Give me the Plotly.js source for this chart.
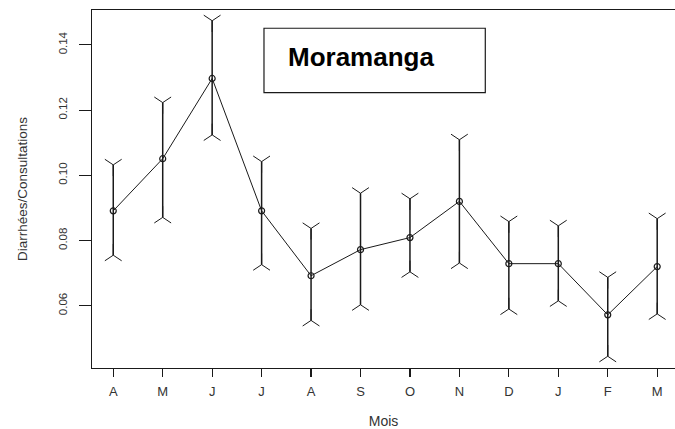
<!DOCTYPE html>
<html>
<head>
<meta charset="utf-8">
<script src="https://cdn.plot.ly/plotly-3.0.1.min.js"></script>
<style>
html,body{margin:0;padding:0;background:#fff;overflow:hidden;}
#chart{width:675px;height:429px;}
</style>
</head>
<body>
<div id="chart"></div>
<script>
// Data
const months = ["A","M","J","J","A","S","O","N","D","J","F","M"];
const rates  = [0.0891,0.1051,0.1297,0.0891,0.0692,0.0772,0.0809,0.0920,0.0729,0.0729,0.0572,0.0720];
const upper  = [0.1032,0.1223,0.1474,0.1042,0.0837,0.0945,0.0928,0.1109,0.0858,0.0845,0.0687,0.0867];
const lower  = [0.0755,0.0871,0.1124,0.0726,0.0555,0.0603,0.0704,0.0731,0.0590,0.0615,0.0445,0.0575];
const yTicks = [0.06,0.08,0.10,0.12,0.14];
const siteName = "Moramanga";

const pos = months.map((m,i)=>i+1);
const ink = "#1a1a1a";
const FONT = "Liberation Sans, Arial, sans-serif";

const main = {
  x: pos, y: rates, type: "scatter", mode: "lines+markers",
  line: {color: ink, width: 1},
  marker: {symbol: "circle-open", size: 6, color: ink, line: {color: ink, width: 1.2}},
  error_y: {
    type: "data", symmetric: false,
    array: upper.map((u,i)=>u-rates[i]),
    arrayminus: lower.map((l,i)=>rates[i]-l),
    width: 0, thickness: 1.5, color: ink
  },
  hoverinfo: "skip", showlegend: false
};
const capsTop = {
  x: pos, y: upper, type: "scatter", mode: "markers",
  marker: {symbol: "y-down", size: 14, color: ink, line: {color: ink, width: 1}},
  hoverinfo: "skip", showlegend: false
};
const capsBot = {
  x: pos, y: lower, type: "scatter", mode: "markers",
  marker: {symbol: "y-up", size: 14, color: ink, line: {color: ink, width: 1}},
  hoverinfo: "skip", showlegend: false
};

const layout = {
  width: 675, height: 429,
  margin: {l: 92, r: 0, t: 10, b: 61},
  paper_bgcolor: "#fff", plot_bgcolor: "#fff",
  font: {family: FONT, color: "#222", size: 11},
  xaxis: {
    range: [0.57, 12.36],
    tickmode: "array", tickvals: pos, ticktext: months,
    showgrid: false, zeroline: false,
    showline: true, mirror: true, linecolor: ink, linewidth: 1.3,
    ticks: "outside", ticklen: 8, tickwidth: 1.2, tickcolor: ink,
    ticklabelstandoff: 3,
    tickfont: {size: 13, color: "#333"},
    title: {text: "Mois", font: {size: 14, color: "#333"}, standoff: 18}
  },
  yaxis: {
    range: [0.0409, 0.1507],
    tickmode: "array", tickvals: yTicks, ticktext: yTicks.map(v=>v.toFixed(2)),
    tickangle: -90,
    showgrid: false, zeroline: false,
    showline: true, mirror: false, linecolor: ink, linewidth: 1.3,
    ticks: "outside", ticklen: 12, tickwidth: 1.2, tickcolor: ink,
    ticklabelstandoff: 7,
    tickfont: {size: 11.5, color: "#333"},
    title: {text: "Diarrhées/Consultations", font: {size: 13.5, color: "#333"}, standoff: 26}
  },
  shapes: [{
    type: "rect", xref: "paper", yref: "paper",
    x0: 0.295, x1: 0.6746, y0: 0.769, y1: 0.949,
    line: {color: ink, width: 1.2}, fillcolor: "#fff", layer: "above"
  }],
  annotations: [{
    xref: "paper", yref: "paper", x: 0.3328, y: 0.8696,
    xanchor: "left", yanchor: "middle", showarrow: false,
    text: "<b>" + siteName + "</b>",
    font: {family: FONT, size: 26, color: "#000"}
  }]
};

Plotly.newPlot("chart", [main, capsTop, capsBot], layout, {staticPlot: true, displayModeBar: false});
</script>
</body>
</html>
